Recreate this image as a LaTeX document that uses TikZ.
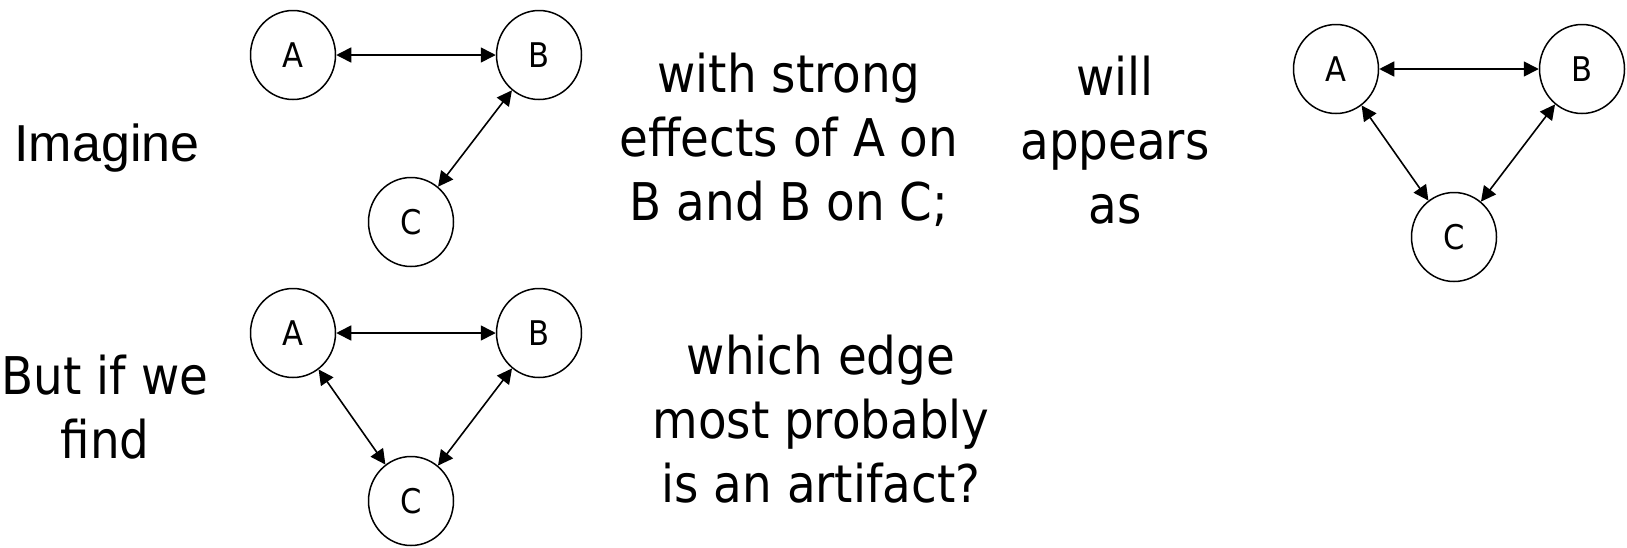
\documentclass[tikz,border=0pt]{standalone}
\usepackage{fontspec}
\setmainfont{DejaVu Sans Condensed}
\newfontfamily\arialfont{Liberation Sans}
\usepackage{tikz}
\usetikzlibrary{arrows.meta, shapes.geometric}

\tikzset{
  var/.style={draw, ellipse, line width=1.5pt, minimum width=85pt,
    minimum height=89pt, inner sep=0pt, font=\fontsize{34}{40}\selectfont},
  edge/.style={{Triangle[length=15pt,width=15pt]}-{Triangle[length=15pt,width=15pt]},
    line width=1.6pt},
  words/.style={align=center, inner sep=0pt, anchor=base,
    font=\fontsize{52}{64}\selectfont}
}

\begin{document}
\begin{tikzpicture}[x=1pt, y=-1pt]
  \useasboundingbox (0,0) rectangle (1627,547);
  % top row
  \node[words] (imagine) at (107,161) {\arialfont Imagine};
  \node[var] (A1) at (293,55) {A};
  \node[var] (B1) at (539,55) {B};
  \node[var] (C1) at (411,222) {C};
  \draw[edge] (A1) -- (B1);
  \draw[edge] (B1) -- (C1);
  \node[words] (strong) at (789,220) {with strong\\effects of A on\\B and B on C;};
  \node[words] (appears) at (1115,223) {will\\appears\\as};
  \node[var] (A2) at (1336,69) {A};
  \node[var] (B2) at (1582,69) {B};
  \node[var] (C2) at (1454,237) {C};
  \draw[edge] (A2) -- (B2);
  \draw[edge] (B2) -- (C2);
  \draw[edge] (A2) -- (C2);
  % bottom row
  \node[words] (find) at (105,458) {But if we\\find};
  \node[var] (A3) at (293,333) {A};
  \node[var] (B3) at (539,333) {B};
  \node[var] (C3) at (411,501) {C};
  \draw[edge] (A3) -- (B3);
  \draw[edge] (B3) -- (C3);
  \draw[edge] (A3) -- (C3);
  \node[words] (artifact) at (821,502) {which edge\\most probably\\is an artifact?};
\end{tikzpicture}
\end{document}
